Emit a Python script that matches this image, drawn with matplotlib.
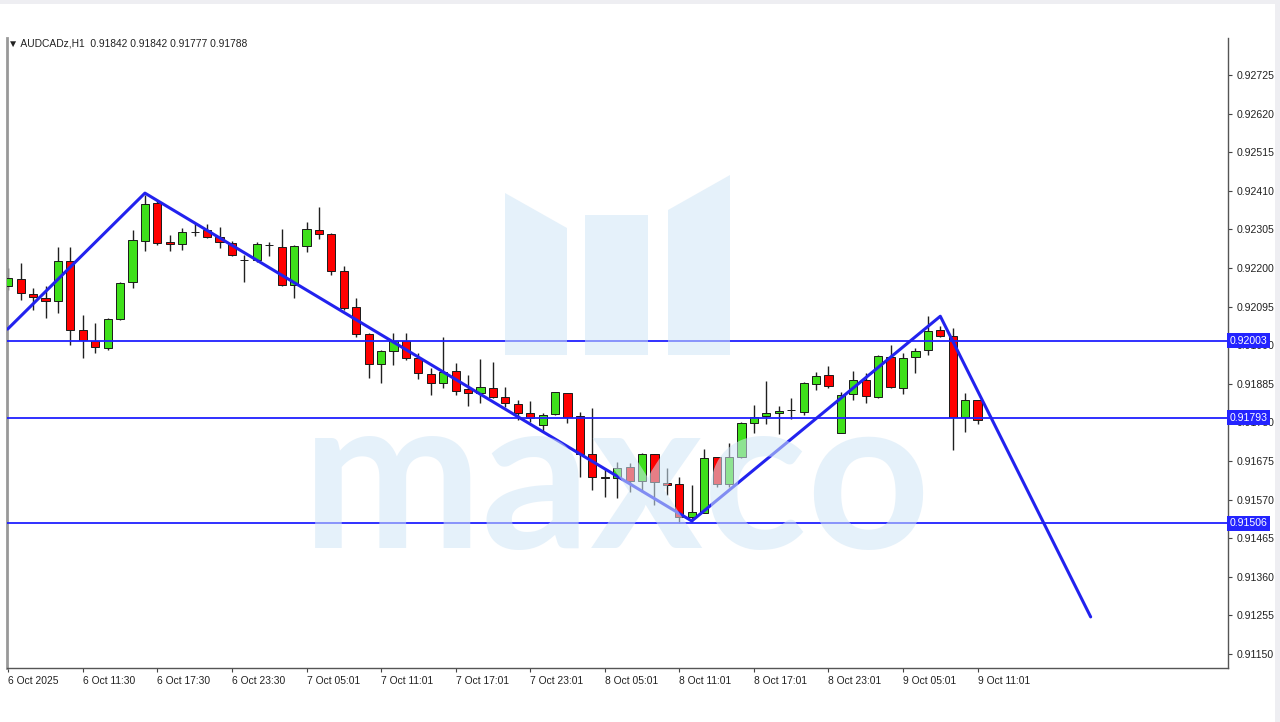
import matplotlib.pyplot as plt
import matplotlib.patches as mpatches
import matplotlib.transforms as mtransforms
import numpy as np

# AUDCAD H1 candles
opens = [0.92151, 0.92170, 0.92129, 0.92118, 0.92110, 0.92219, 0.92031, 0.92001, 0.91982, 0.92061,
         0.92162, 0.92273, 0.92377, 0.92271, 0.92265, 0.92298, 0.92303, 0.92284, 0.92268, 0.92222,
         0.92222, 0.92263, 0.92257, 0.92154, 0.92260, 0.92303, 0.92293, 0.92192, 0.92094, 0.92020,
         0.91939, 0.91974, 0.92001, 0.91955, 0.91912, 0.91887, 0.91920, 0.91871, 0.91860, 0.91874,
         0.91849, 0.91830, 0.91806, 0.91773, 0.91803, 0.91860, 0.91797, 0.91694, 0.91631, 0.91629,
         0.91659, 0.91620, 0.91694, 0.91615, 0.91612, 0.91523, 0.91534, 0.91686, 0.91612, 0.91686,
         0.91778, 0.91797, 0.91806, 0.91814, 0.91808, 0.91884, 0.91909, 0.91751, 0.91857, 0.91896,
         0.91849, 0.91958, 0.91874, 0.91958, 0.91977, 0.92031, 0.92015, 0.91795, 0.91842]
highs = [0.92200, 0.92214, 0.92145, 0.92151, 0.92257, 0.92257, 0.92072, 0.92050, 0.92064, 0.92162,
         0.92303, 0.92399, 0.92385, 0.92290, 0.92309, 0.92322, 0.92320, 0.92312, 0.92273, 0.92235,
         0.92271, 0.92271, 0.92306, 0.92263, 0.92325, 0.92366, 0.92295, 0.92205, 0.92118, 0.92023,
         0.91977, 0.92023, 0.92023, 0.91969, 0.91928, 0.92012, 0.91942, 0.91909, 0.91953, 0.91944,
         0.91876, 0.91841, 0.91838, 0.91806, 0.91863, 0.91860, 0.91808, 0.91819, 0.91656, 0.91672,
         0.91670, 0.91697, 0.91694, 0.91656, 0.91631, 0.91610, 0.91708, 0.91686, 0.91724, 0.91781,
         0.91827, 0.91893, 0.91825, 0.91846, 0.91890, 0.91917, 0.91933, 0.91863, 0.91920, 0.91914,
         0.91963, 0.91991, 0.91969, 0.91982, 0.92069, 0.92042, 0.92037, 0.91860, 0.91842]
lows = [0.92140, 0.92113, 0.92086, 0.92064, 0.92078, 0.91991, 0.91955, 0.91969, 0.91977, 0.92058,
        0.92145, 0.92246, 0.92263, 0.92246, 0.92249, 0.92287, 0.92282, 0.92254, 0.92233, 0.92162,
        0.92216, 0.92233, 0.92151, 0.92118, 0.92244, 0.92279, 0.92181, 0.92086, 0.92012, 0.91901,
        0.91887, 0.91936, 0.91950, 0.91898, 0.91854, 0.91874, 0.91854, 0.91825, 0.91833, 0.91846,
        0.91822, 0.91787, 0.91781, 0.91754, 0.91800, 0.91778, 0.91631, 0.91596, 0.91577, 0.91574,
        0.91591, 0.91591, 0.91555, 0.91583, 0.91506, 0.91509, 0.91534, 0.91604, 0.91604, 0.91683,
        0.91751, 0.91776, 0.91748, 0.91789, 0.91800, 0.91868, 0.91874, 0.91751, 0.91841, 0.91833,
        0.91846, 0.91874, 0.91857, 0.91914, 0.91963, 0.92012, 0.91705, 0.91754, 0.91777]
closes = [0.92173, 0.92132, 0.92121, 0.92110, 0.92219, 0.92031, 0.92004, 0.91985, 0.92061, 0.92159,
          0.92276, 0.92374, 0.92268, 0.92265, 0.92298, 0.92297, 0.92284, 0.92271, 0.92235, 0.92223,
          0.92265, 0.92262, 0.92154, 0.92260, 0.92306, 0.92293, 0.92192, 0.92091, 0.92020, 0.91939,
          0.91974, 0.92001, 0.91955, 0.91914, 0.91887, 0.91917, 0.91865, 0.91860, 0.91876, 0.91849,
          0.91833, 0.91806, 0.91792, 0.91800, 0.91863, 0.91795, 0.91694, 0.91631, 0.91630, 0.91656,
          0.91620, 0.91694, 0.91618, 0.91610, 0.91523, 0.91536, 0.91683, 0.91612, 0.91686, 0.91778,
          0.91795, 0.91806, 0.91811, 0.91815, 0.91887, 0.91906, 0.91879, 0.91854, 0.91896, 0.91852,
          0.91961, 0.91876, 0.91955, 0.91974, 0.92029, 0.92015, 0.91795, 0.91841, 0.91788]

time_labels = ['6 Oct 2025', '6 Oct 11:30', '6 Oct 17:30', '6 Oct 23:30', '7 Oct 05:01',
               '7 Oct 11:01', '7 Oct 17:01', '7 Oct 23:01', '8 Oct 05:01', '8 Oct 11:01',
               '8 Oct 17:01', '8 Oct 23:01', '9 Oct 05:01', '9 Oct 11:01']
price_ticks = [0.91150, 0.91255, 0.91360, 0.91465, 0.91570, 0.91675, 0.91780, 0.91885,
               0.91990, 0.92095, 0.92200, 0.92305, 0.92410, 0.92515, 0.92620, 0.92725]
levels = [0.92003, 0.91793, 0.91506]

# zigzag pattern drawn by hand (bar index, price)
zz_bars = [-0.05, 11, 55, 75, 87.1]
zz_prices = [0.92034, 0.92404, 0.91512, 0.92069, 0.91251]

W, H = 1280, 722
fig = plt.figure(figsize=(W / 100, H / 100), dpi=100)
fig.patch.set_facecolor('#eeeef2')
fig.patches.append(mpatches.Rectangle((0, 0), 1275 / W, 1 - 4 / H, transform=fig.transFigure,
                                      facecolor='white', edgecolor='none', zorder=-10))

ax = fig.add_axes([7 / W, 1 - 668 / H, (1228 - 7) / W, (668 - 38) / H])
ax.set_facecolor('white')

n = len(opens)
x = np.arange(n)
o = np.array(opens); c = np.array(closes)
up = c >= o
ax.vlines(x, lows, highs, color='#202020', lw=1, zorder=2)
body_bot = np.minimum(o, c)
body_h = np.maximum(np.abs(c - o), 0.000012)
cols = np.where(up, '#3ee01a', '#ff0000')
doji = np.abs(c - o) < 0.00002
cols = np.where(doji, '#000000', cols)
ax.bar(x, body_h, bottom=body_bot, width=0.66, color=cols, edgecolor='#1a1a1a', lw=0.7, zorder=3)

for lv in levels:
    ax.axhline(lv, color='#2020ff', lw=1.3, zorder=4)
ax.plot(zz_bars, zz_prices, color='#2222ee', lw=2.2, zorder=5, solid_capstyle='round')

ax.set_xlim(-0.1, 98.15)
ax.set_ylim(0.91112, 0.92826)

ax.yaxis.tick_right()
ax.set_yticks(price_ticks)
ax.set_yticklabels(['%.5f' % v for v in price_ticks], fontsize=7.6, family='Liberation Sans', color='#222222')
ax.tick_params(axis='y', length=3, width=0.8, pad=3, colors='#444444', labelcolor='#222222')
ax.set_xticks(np.arange(0, 6 * len(time_labels), 6))
ax.set_xticklabels(time_labels, fontsize=7.4, family='Liberation Sans', ha='left', color='#222222')
ax.tick_params(axis='x', length=3, width=0.8, pad=3, colors='#444444', labelcolor='#222222')
ax.spines['top'].set_visible(False)
for s in ['left', 'right', 'bottom']:
    ax.spines[s].set_color('#555555')
    ax.spines[s].set_linewidth(1.0)
ax.spines['left'].set_color('#999999')
ax.spines['left'].set_linewidth(2)

# highlighted price boxes on the right axis
for lv in levels:
    ax.text(1.0012, lv, '%.5f' % lv, transform=ax.get_yaxis_transform(), ha='left', va='center',
            fontsize=7.6, family='Liberation Sans', color='white', zorder=10, clip_on=False,
            bbox=dict(boxstyle='square,pad=0.22', facecolor='#2424ff', edgecolor='none'))

# header
fig.text(8 / W, 1 - 44 / H, '\u25bc AUDCADz,H1  0.91842 0.91842 0.91777 0.91788', fontsize=7.4,
         family='Liberation Sans', color='#222222', va='center', ha='left')

# watermark (pixel coordinates, origin top-left)
px = mtransforms.Affine2D().scale(1 / W, -1 / H).translate(0, 1) + fig.transFigure
wm = (0.82, 0.90, 0.965)
for poly in [[(505, 193), (567, 228), (567, 355), (505, 355)],
             [(585, 215), (648, 215), (648, 355), (585, 355)],
             [(668, 210), (730, 175), (730, 355), (668, 355)]]:
    fig.patches.append(mpatches.Polygon(poly, closed=True, transform=px, facecolor=wm,
                                        edgecolor='none', alpha=0.55, zorder=20))
fig.text(302, 548, 'maxco', transform=px, fontsize=155, family='Lato', fontweight='bold',
         color=wm, alpha=0.55, ha='left', va='baseline', zorder=20)

fig.savefig('out.png', dpi=100, facecolor=fig.get_facecolor())
